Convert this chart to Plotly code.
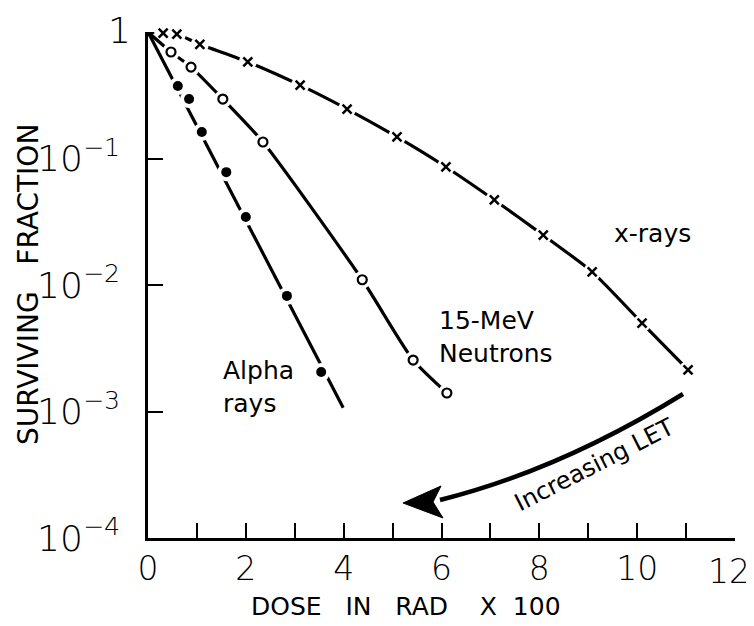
import plotly.graph_objects as go

# ---------------- data ----------------
xray_dose = [0.31, 0.59, 1.06, 2.04, 3.11, 4.07, 5.09, 6.09, 7.08, 8.08, 9.08, 10.1, 11.04]
xray_sf = [0.98, 0.96, 0.80, 0.58, 0.38, 0.246, 0.148, 0.0857, 0.047, 0.0248, 0.0127, 0.0050, 0.00213]

neutron_dose = [0.47, 0.88, 1.53, 2.35, 4.38, 5.42, 6.11]
neutron_sf = [0.695, 0.528, 0.295, 0.135, 0.011, 0.00255, 0.0014]

alpha_dose = [0.61, 0.84, 1.10, 1.60, 2.00, 2.84, 3.54]
alpha_sf = [0.374, 0.295, 0.162, 0.078, 0.0345, 0.0082, 0.00205]
alpha_fit_dose = [0.0, 3.99]
alpha_fit_sf = [1.0, 0.00107]

origin_dose = [0.0]
origin_sf = [1.0]

x_tickvals = list(range(0, 13))
x_ticktext = ["0", "", "2", "", "4", "", "6", "", "8", "", "10", "", ""]
x_last_label = "12"
y_tickvals = [1e-4, 1e-3, 1e-2, 1e-1]
y_ticktext = ["10<sup>−4</sup>", "10<sup>−3</sup>", "10<sup>−2</sup>", "10<sup>−1</sup>"]
y_top_label = "1"

# ---------------- layout geometry ----------------
# the page body adds an 8px offset, so the figure is made 8px smaller
OFF = 8
W, H = 754 - OFF, 626 - OFF
L, R, T, B = 148 - OFF, 19, 32 - OFF, 88
PW, PH = W - L - R, H - T - B


def px(x):
    return (x - OFF - L) / PW


def py(y):
    return (H - B - (y - OFF)) / PH


FONT = "DejaVu Sans"
fig = go.Figure()


def add_series(xs, ys, line_x, line_y, symbol, msize, mline, mcolor, shape):
    fig.add_trace(go.Scatter(x=line_x, y=line_y, mode="lines",
                             line=dict(color="black", width=3.2, shape=shape, smoothing=0.6),
                             cliponaxis=False, hoverinfo="skip", showlegend=False))
    # white halo creating the gaps around markers
    fig.add_trace(go.Scatter(x=xs, y=ys, mode="markers",
                             marker=dict(symbol="circle", size=18, color="white", line=dict(width=0)),
                             cliponaxis=False, hoverinfo="skip", showlegend=False))
    fig.add_trace(go.Scatter(x=xs, y=ys, mode="markers",
                             marker=dict(symbol=symbol, size=msize, color=mcolor,
                                         line=dict(width=mline, color="black")),
                             cliponaxis=False, showlegend=False))


add_series(xray_dose, xray_sf, origin_dose + xray_dose, origin_sf + xray_sf,
           "x-thin", 9, 2.5, "black", "spline")
add_series(neutron_dose, neutron_sf, origin_dose + neutron_dose, origin_sf + neutron_sf,
           "circle-open", 9, 2.2, "black", "spline")
add_series(alpha_dose, alpha_sf, alpha_fit_dose, alpha_fit_sf,
           "circle", 10, 0, "black", "linear")

# curved arrow "Increasing LET"
p0, c0, p1 = (683, 394), (560, 470), (440, 500)
fig.add_shape(type="path", xref="paper", yref="paper",
              path=f"M {px(p0[0])},{py(p0[1])} Q {px(c0[0])},{py(c0[1])} {px(p1[0])},{py(p1[1])}",
              line=dict(color="black", width=4.5))
head = [(403, 503), (441, 486), (433, 502), (443, 518)]
fig.add_shape(type="path", xref="paper", yref="paper",
              path="M " + " L ".join(f"{px(a)},{py(b)}" for a, b in head) + " Z",
              fillcolor="black", line=dict(color="black", width=1))

ann = [
    dict(text="x-rays", x=652, y=233, size=25, align="center"),
    dict(text="15-MeV<br>Neutrons", x=496, y=337, size=25, align="left"),
    dict(text="Alpha<br>rays", x=258, y=387, size=25, align="left"),
]
for a in ann:
    fig.add_annotation(text=a["text"], x=px(a["x"]), y=py(a["y"]), xref="paper", yref="paper",
                       xanchor="center", yanchor="middle",
                       showarrow=False, align=a["align"],
                       font=dict(family=FONT, size=a["size"], color="black"))

# label of the top decade, placed next to the axis like the reference
fig.add_annotation(text=y_top_label, x=px(133), y=py(30), xref="paper", yref="paper",
                   xanchor="right", yanchor="middle", showarrow=False,
                   font=dict(family=FONT, size=36, color="black", weight=200))
# last x label, kept inside the window
fig.add_annotation(text=x_last_label, x=px(729), y=py(571), xref="paper", yref="paper",
                   xanchor="center", yanchor="middle", showarrow=False,
                   font=dict(family=FONT, size=33, color="black", weight=200))

fig.add_annotation(text="Increasing LET", x=px(594), y=py(465), xref="paper", yref="paper",
                   xanchor="center", yanchor="middle",
                   showarrow=False, textangle=-27,
                   font=dict(family=FONT, size=24, color="black"))
fig.add_annotation(text="DOSE   IN   RAD    X  100", x=px(406), y=py(606), xref="paper", yref="paper",
                   xanchor="center", yanchor="middle",
                   showarrow=False, font=dict(family=FONT, size=25, color="black"))
fig.add_annotation(text="SURVIVING   FRACTION", x=px(28), y=py(285), xref="paper", yref="paper",
                   xanchor="center", yanchor="middle",
                   showarrow=False, textangle=-90, font=dict(family=FONT, size=28, color="black"))

fig.update_xaxes(range=[0, 12], tickvals=x_tickvals, ticktext=x_ticktext, automargin=False,
                 ticks="inside", ticklen=15, tickwidth=2, tickcolor="black",
                 showline=True, linewidth=2.5, linecolor="black", showgrid=False, zeroline=False,
                 ticklabelstandoff=0, ticklabeloverflow="allow",
                 tickfont=dict(family=FONT, size=33, color="black", weight=200))
fig.update_yaxes(type="log", range=[-4, 0], tickvals=y_tickvals, ticktext=y_ticktext, automargin=False,
                 ticks="inside", ticklen=15, tickwidth=2, tickcolor="black",
                 showline=True, linewidth=2.5, linecolor="black", showgrid=False, zeroline=False,
                 ticklabelstandoff=18, ticklabeloverflow="allow",
                 tickfont=dict(family=FONT, size=36, color="black", weight=200))

fig.update_layout(width=W, height=H, margin=dict(l=L, r=R, t=T, b=B),
                  plot_bgcolor="white", paper_bgcolor="white", showlegend=False)

fig.write_html("out.html")
